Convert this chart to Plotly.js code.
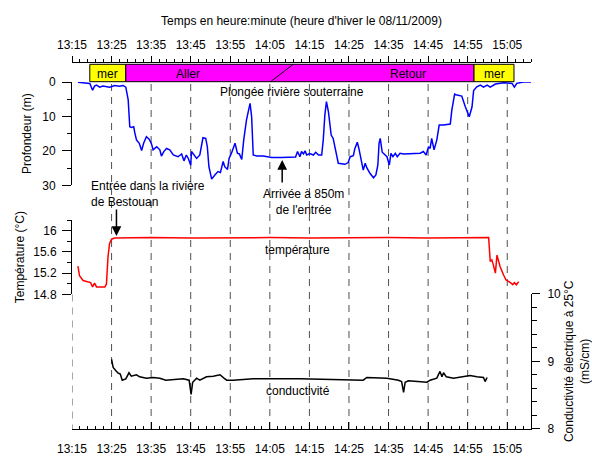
<!DOCTYPE html>
<html><head><meta charset="utf-8">
<script src="https://cdn.plot.ly/plotly-3.0.1.min.js"></script>
<style>html,body{margin:0;padding:0;background:#fff}#chart{width:592px;height:456px}</style>
</head><body><div id="chart"></div>
<script>
// ---------- data ----------
const tickLabels = ['13:15','13:25','13:35','13:45','13:55','14:05','14:15','14:25','14:35','14:45','14:55','15:05'];
const axisStart = '13:15';
const axisEnd = '15:11';
const baseTime = '13:15'; // series times are minutes after this

const depthMin = [1.5,4.5,5.2,5.7,6.2,7,7.8,9.5,10.8,12,12.9,13.6,14.2,14.6,15,15.6,15.9,16.3,17,17.6,18.1,18.8,19.5,20.1,20.5,21.4,22.2,22.6,23.2,23.9,24.7,25.6,26.8,27.7,28.3,28.9,29.4,30,30.2,30.8,31.5,32.3,32.7,33.1,33.8,34.2,34.6,35.3,36.1,36.9,37.5,38.2,38.6,39.3,39.7,40.3,41.2,41.8,42.3,42.9,43.4,44.1,45,45.4,45.8,46.7,48.3,50.5,53,56.5,57,57.6,58,58.5,58.9,59.3,60.1,61,61.6,62.3,63.1,63.5,63.9,64.3,64.8,65.5,66,66.6,67.3,69,69.8,70.3,71.1,71.5,72.1,72.5,73.2,73.6,74.1,74.5,75.3,76.2,76.8,77.3,77.6,77.9,78.4,78.7,79.6,80.2,80.6,81.1,81.7,82.2,82.9,83.8,85.4,88,88.8,89.5,90.1,90.5,90.9,91.5,92.2,92.8,93.9,95.6,96,96.7,97.3,98.5,99.4,100.4,101.1,101.5,102.3,103.2,104,104.9,105.7,107,109.1,111.2,111.8,112.4,114.1,116];
const depthM = [0.1,0.4,2.4,1.2,0.9,1.5,1.2,1.5,1.0,1.2,1.0,1.5,5.2,13,13.2,13,14.9,16.8,17.8,19.9,17.8,15.9,16.6,18,19.7,18.8,19.7,21.5,20.2,19.3,19.7,21.2,21.7,20.9,22.9,21.2,22.2,24.2,20.2,21.2,22.2,21.2,18.8,16.2,16.4,18.8,24.6,28.2,27,26,26.3,23.1,24.6,25.4,22.2,20.7,17.8,20.7,20.9,22.5,16.8,11,6.2,10.1,21.2,21.5,21.5,21.9,21.9,21.8,20.2,21.7,20.2,20.9,20,21.2,20.8,21.2,20.4,21.2,21.2,16.8,9.6,5.7,8.6,15.4,16.4,20.2,23.6,23.9,23.4,21.7,21.4,19.3,17.5,19.3,23.1,25.6,23.6,24.9,26.5,27.8,27,24.1,17.8,16.4,20.4,20.7,21.7,24.1,20.7,21.7,20.7,21.7,20.7,20.9,20.9,20.7,20.2,21.2,18.8,19.3,16.4,19.7,16.8,12.5,12.5,12.2,8.1,3.5,3.8,4.1,7.2,10.1,7.2,2.5,1.4,0.9,1.5,0.9,1.5,0.6,0.2,0.4,1.5,0.4,0,0];

const tempMin = [1.5,1.9,2.8,4,4.7,5.2,5.7,6.2,7,8.3,8.7,9.1,9.5,10,10.8,20,30,40,50,60,70,80,90,100,105.3,105.7,106.1,106.5,107,107.4,107.8,108.2,109.1,109.7,110.8,111.4,111.8,112.3,112.9];
const tempC = [15.33,15.15,15.06,15.04,15.02,14.94,15.01,14.94,14.94,14.94,14.99,15.51,15.76,15.84,15.86,15.87,15.86,15.87,15.87,15.86,15.87,15.87,15.86,15.87,15.87,15.42,15.45,15.35,15.2,15.54,15.42,15.32,15.16,15.07,15.02,14.98,15.02,14.98,15.04];

const condMin = [10,10.4,11.1,11.6,12.2,12.7,13.6,14.4,15,16.3,17.1,18.8,20.5,22.2,23.7,25.6,28.1,29.6,30.1,30.5,31.5,32.3,34,35.7,37.4,38.4,39.1,40.7,44.1,45.8,57.6,70.3,73.6,74.5,77.9,79.6,82.5,83.3,83.8,84.2,85,88.8,89.7,90.5,92.2,93,93.5,93.9,94.6,96.4,98.1,100.6,102.3,104,104.4,104.9];
const condMS = [9.03,8.91,8.86,8.83,8.81,8.72,8.74,8.83,8.78,8.80,8.77,8.75,8.76,8.75,8.72,8.73,8.74,8.72,8.51,8.69,8.75,8.72,8.77,8.78,8.80,8.75,8.72,8.72,8.73,8.74,8.74,8.73,8.72,8.76,8.76,8.75,8.72,8.70,8.54,8.69,8.71,8.70,8.69,8.72,8.75,8.85,8.77,8.83,8.77,8.75,8.77,8.79,8.77,8.76,8.70,8.76];

const boxStart = ['13:19:30','13:28:36','14:56:36'];
const boxEnd   = ['13:28:36','14:56:36','15:06:42'];
const phaseLabels = ['mer','Aller','Retour','mer'];
const phaseLabelTime = ['13:24:03','13:44:18','14:40:00','15:01:39'];
const phaseSplit = ['14:05:12','14:10:54']; // diagonal Aller/Retour separator
const entryTime = '13:26:14';
const arrivalTime = '14:08:07';

// ---------- helpers ----------
const toMin = s => { const p = s.split(':').map(Number); return p[0]*60 + p[1] + (p[2]||0)/60; };
const base = toMin(baseTime);
const H = 456, L = 72, R = 531;
const px = v => (v - L) / (R - L);
const py = v => 1 - v / H;
const tickVals = tickLabels.map(toMin);
const xr = [toMin(axisStart), toMin(axisEnd)];
const FONT = 'Liberation Sans, Arial, sans-serif';
const f12 = {family: FONT, size: 12, color: '#000'};

const traces = [
  {x: depthMin.map(t => base + t), y: depthM, xaxis: 'x', yaxis: 'y', mode: 'lines', line: {color: '#0000ff', width: 1.5}, hoverinfo: 'skip'},
  {x: tempMin.map(t => base + t), y: tempC, xaxis: 'x', yaxis: 'y2', mode: 'lines', line: {color: '#ff0000', width: 1.5}, hoverinfo: 'skip'},
  {x: condMin.map(t => base + t), y: condMS, xaxis: 'x', yaxis: 'y3', mode: 'lines', line: {color: '#000000', width: 1.5}, hoverinfo: 'skip'},
  {x: xr, y: [null, null], xaxis: 'x2', yaxis: 'y', mode: 'lines', hoverinfo: 'skip'}
];

const shapes = [];
tickVals.forEach((v, i) => {
  shapes.push({type: 'line', xref: 'x', yref: 'paper', x0: v, x1: v,
    y0: i === 0 ? py(294.5) : py(84), y1: py(429),
    line: {color: '#505050', width: 1, dash: '7px,6px'}, layer: 'below'});
});
const boxColors = ['#ffff00', '#ff00ff', '#ffff00'];
boxStart.forEach((s, i) => {
  shapes.push({type: 'rect', xref: 'x', yref: 'paper', x0: toMin(s), x1: toMin(boxEnd[i]),
    y0: py(81.7), y1: py(64.3), fillcolor: boxColors[i], line: {color: '#000', width: 1}, layer: 'above'});
});
shapes.push({type: 'line', xref: 'x', yref: 'paper', x0: toMin(phaseSplit[0]), x1: toMin(phaseSplit[1]),
  y0: py(81.7), y1: py(64.3), line: {color: '#000', width: 1}});

const annotations = phaseLabels.map((t, i) => ({
  text: t, xref: 'x', yref: 'paper', x: toMin(phaseLabelTime[i]), y: py(73.5),
  showarrow: false, font: f12, xanchor: 'center', yanchor: 'middle'
}));
annotations.push(
  {text: 'Plongée rivière souterraine', xref: 'x', yref: 'paper', x: toMin('14:10:30'), y: py(91.7), showarrow: false, font: f12, xanchor: 'center', yanchor: 'middle'},
  {text: 'Entrée dans la rivière<br>de Bestouan', xref: 'paper', yref: 'paper', x: px(89), y: py(194), showarrow: false, font: f12, xanchor: 'left', yanchor: 'middle', align: 'left'},
  {text: '', xref: 'x', yref: 'paper', x: toMin(entryTime), y: py(236), showarrow: true, arrowhead: 2, arrowsize: 1.3, arrowwidth: 1.5, arrowcolor: '#000', ax: 0, ay: -28},
  {text: 'Arrivée à 850m<br>de l\'entrée', xref: 'x', yref: 'paper', x: toMin('14:13:30'), y: py(201.5), showarrow: false, font: f12, xanchor: 'center', yanchor: 'middle', align: 'center'},
  {text: '', xref: 'x', yref: 'paper', x: toMin(arrivalTime), y: py(160), showarrow: true, arrowhead: 2, arrowsize: 1.3, arrowwidth: 1.5, arrowcolor: '#000', ax: 0, ay: 24},
  {text: 'température', xref: 'x', yref: 'paper', x: toMin('14:12:00'), y: py(250), showarrow: false, font: f12, xanchor: 'center', yanchor: 'middle'},
  {text: 'conductivité', xref: 'x', yref: 'paper', x: toMin('14:12:00'), y: py(391), showarrow: false, font: f12, xanchor: 'center', yanchor: 'middle'}
);

const common = {showline: true, linecolor: '#000', linewidth: 1, showgrid: false, zeroline: false, tickcolor: '#000', tickfont: f12, automargin: false};

const layout = {
  width: 592, height: 456,
  margin: {l: L, r: 592 - R, t: 0, b: 0},
  paper_bgcolor: '#fff', plot_bgcolor: 'rgba(0,0,0,0)',
  showlegend: false,
  font: f12,
  xaxis: Object.assign({}, common, {range: xr, anchor: 'y3', tickmode: 'array', tickvals: tickVals, ticktext: tickLabels,
    ticks: 'inside', ticklen: 7, ticklabelstandoff: 9,
    minor: {tickmode: 'linear', tick0: xr[0], dtick: 2, ticks: 'inside', ticklen: 3, tickcolor: '#000', showgrid: false}}),
  xaxis2: Object.assign({}, common, {range: xr, overlaying: 'x', side: 'top', anchor: 'free', position: py(61.7),
    tickmode: 'array', tickvals: tickVals, ticktext: tickLabels, ticks: 'outside', ticklen: 6, ticklabelstandoff: 2,
    minor: {tickmode: 'linear', tick0: xr[0], dtick: 2, ticks: 'outside', ticklen: 3, tickcolor: '#000', showgrid: false},
    title: {text: 'Temps en heure:minute (heure d\'hiver le 08/11/2009)', font: f12, standoff: 8}}),
  yaxis: Object.assign({}, common, {domain: [py(185.3), py(82)], range: [30, 0], anchor: 'x', tickmode: 'linear', tick0: 0, dtick: 10,
    ticks: 'outside', ticklen: 9, ticklabelstandoff: 4,
    minor: {tickmode: 'linear', tick0: 0, dtick: 5, ticks: 'outside', ticklen: 4, tickcolor: '#000', showgrid: false},
    title: {text: 'Profondeur (m)', font: f12, standoff: 8}}),
  yaxis2: Object.assign({}, common, {domain: [py(294.3), py(220.1)], range: [14.8, 16.2], anchor: 'x', tickmode: 'linear', tick0: 14.8, dtick: 0.4,
    ticks: 'outside', ticklen: 9, ticklabelstandoff: 3,
    minor: {tickmode: 'linear', tick0: 14.8, dtick: 0.2, ticks: 'outside', ticklen: 4, tickcolor: '#000', showgrid: false},
    title: {text: 'Température (°C)', font: f12, standoff: 6}}),
  yaxis3: Object.assign({}, common, {domain: [py(428.8), py(293.8)], range: [8, 10], anchor: 'x', side: 'right', tickmode: 'linear', tick0: 8, dtick: 1,
    ticks: 'outside', ticklen: 8, ticklabelstandoff: 5,
    minor: {tickmode: 'linear', tick0: 8, dtick: 0.2, ticks: 'outside', ticklen: 5, tickcolor: '#000', showgrid: false},
    title: {text: 'Conductivité électrique à 25°C<br>(mS/cm)', font: f12, standoff: 10}}),
  shapes: shapes,
  annotations: annotations
};

Plotly.newPlot('chart', traces, layout, {displayModeBar: false, staticPlot: true});
</script>
</body></html>
